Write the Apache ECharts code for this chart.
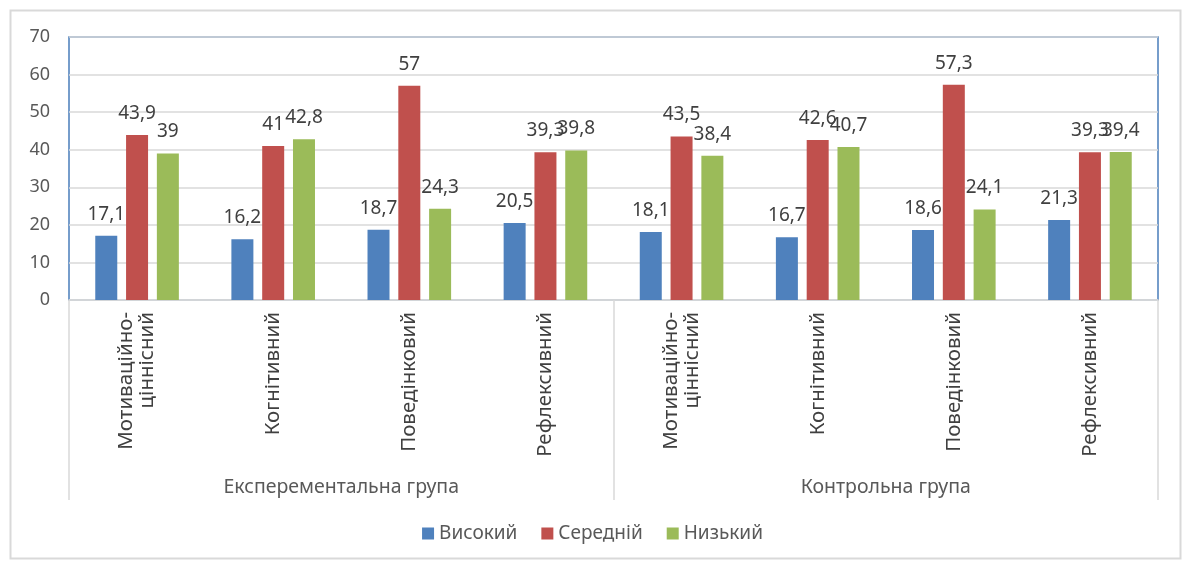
<!DOCTYPE html>
<html>
<head>
<meta charset="utf-8">
<script src="https://cdn.jsdelivr.net/npm/echarts@6/dist/echarts.min.js"></script>
<style>
html,body{margin:0;padding:0;background:#fff;}
#c{width:1185px;height:562px;}
</style>
</head>
<body>
<div id="c"></div>
<script>
const categories = ['Мотиваційно-\nціннісний','Когнітивний','Поведінковий','Рефлексивний','Мотиваційно-\nціннісний','Когнітивний','Поведінковий','Рефлексивний'];
const groups = ['Експерементальна група','Контрольна група'];
const seriesNames = ['Високий','Середній','Низький'];
const high = [17.1,16.2,18.7,20.5,18.1,16.7,18.6,21.3];
const mid = [43.9,41,57,39.3,43.5,42.6,57.3,39.3];
const low = [39,42.8,24.3,39.8,38.4,40.7,24.1,39.4];
const yTicks = {min:0,max:70,interval:10};

const FONT = "'Noto Sans', 'Liberation Sans', sans-serif";
const colors = ['#4f81bd','#c0504d','#9bbb59'];
const fmt = p => String(p.value).replace('.', ',');

const chart = echarts.init(document.getElementById('c'));
chart.setOption({
  animation:false,
  textStyle:{fontFamily:FONT},
  graphic:[{type:'rect',left:8,top:8,shape:{width:1170,height:548},style:{fill:'none',stroke:'#d9d9d9',lineWidth:2},silent:true,z:-10}],
  grid:{left:69,right:27,top:37,bottom:262,show:true,borderColor:'#4a7ebb',borderWidth:1.5,backgroundColor:'transparent'},
  legend:{bottom:14,left:'center',itemWidth:12,itemHeight:12,itemGap:24,icon:'rect',
    textStyle:{fontSize:19,color:'#595959',fontFamily:FONT},data:seriesNames},
  xAxis:[
    {type:'category',data:categories,gridIndex:0,
     axisLine:{show:true,lineStyle:{color:'#d9d9d9',width:1.5}},
     axisTick:{show:false},
     axisLabel:{rotate:90,interval:0,margin:12,fontSize:20.5,color:'#404040',fontFamily:FONT,lineHeight:21}},
    {type:'category',data:groups,gridIndex:0,position:'bottom',
     axisLine:{show:false},
     axisTick:{show:true,length:200,interval:0,lineStyle:{color:'#d9d9d9',width:1.5}},
     axisLabel:{interval:0,margin:177,fontSize:19.5,color:'#595959',fontFamily:FONT}}
  ],
  yAxis:{type:'value',min:yTicks.min,max:yTicks.max,interval:yTicks.interval,
    axisLine:{show:false},axisTick:{show:false},
    splitLine:{lineStyle:{color:'#d9d9d9',width:1.5}},
    axisLabel:{fontSize:18,color:'#595959',margin:19,fontFamily:FONT}},
  series:[high,mid,low].map((d,i)=>({
    name:seriesNames[i],type:'bar',data:d,xAxisIndex:0,
    barWidth:22,barGap:'40%',barCategoryGap:'38%',
    itemStyle:{color:colors[i]},
    label:{show:true,position:'top',distance:12,formatter:fmt,fontSize:19,color:'#404040',fontFamily:FONT}
  }))
});
</script>
</body>
</html>
